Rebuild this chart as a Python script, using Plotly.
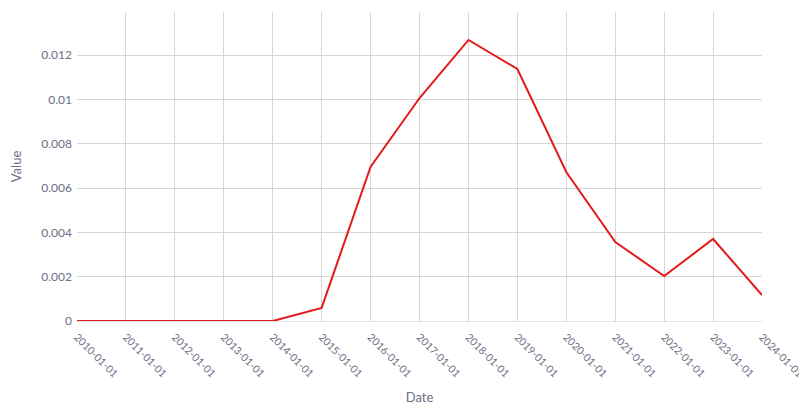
import plotly.graph_objects as go

# 연도별 값
DATES = [
    "2010-01-01", "2011-01-01", "2012-01-01", "2013-01-01", "2014-01-01",
    "2015-01-01", "2016-01-01", "2017-01-01", "2018-01-01", "2019-01-01",
    "2020-01-01", "2021-01-01", "2022-01-01", "2023-01-01", "2024-01-01",
]
VALUES = [
    0.0, 0.0, 0.0, 0.0, 0.0,
    0.00059, 0.00695, 0.01006, 0.01268, 0.01137,
    0.00672, 0.00356, 0.00203, 0.00370, 0.00117,
]
Y_TICKS = [0, 0.002, 0.004, 0.006, 0.008, 0.01, 0.012]
Y_TICK_TEXT = ["0", "0.002", "0.004", "0.006", "0.008", "0.01", "0.012"]

TEXT = "#6e6e85"
GRID = "#d6d6d6"

fig = go.Figure(
    go.Scatter(
        x=DATES,
        y=VALUES,
        mode="lines",
        line=dict(color="#e31a1c", width=2),
    )
)

# 페이지 body 기본 여백(8px) 만큼 줄여서 맞춤
fig.update_layout(
    width=799,
    height=402,
    paper_bgcolor="white",
    plot_bgcolor="white",
    font=dict(family="Lato, sans-serif", size=12, color=TEXT),
    margin=dict(l=69, r=45, t=4, b=89),
    showlegend=False,
)
fig.update_xaxes(
    title=dict(text="Date", font=dict(size=13, color=TEXT), standoff=14),
    range=["2010-01-01", "2024-01-01 00:30"],
    tickvals=DATES,
    ticktext=DATES,
    tickangle=45,
    tickfont=dict(size=10.5),
    ticklabelstandoff=5,
    ticklabeloverflow="allow",
    showgrid=True,
    gridcolor=GRID,
    showline=True,
    linecolor="#e4e4ea",
    zeroline=False,
    ticks="",
    automargin=False,
)
fig.update_yaxes(
    title=dict(text="Value", font=dict(size=13, color=TEXT), standoff=20),
    range=[0, 0.01394],
    tickvals=Y_TICKS,
    ticktext=Y_TICK_TEXT,
    showgrid=True,
    gridcolor=GRID,
    zeroline=False,
    ticks="",
    ticklabelstandoff=4,
    automargin=False,
)

fig.write_html("out.html")
